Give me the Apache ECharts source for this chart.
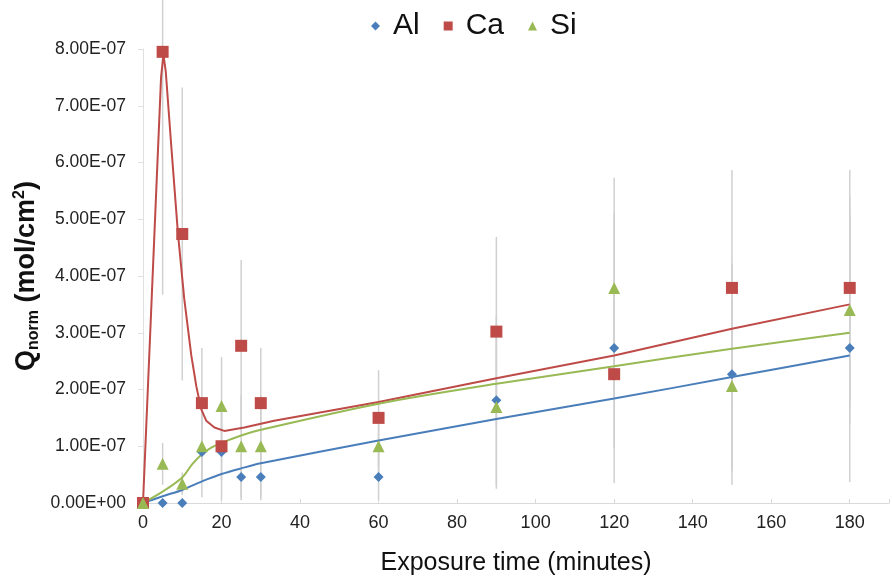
<!DOCTYPE html>
<html>
<head>
<meta charset="utf-8">
<script src="https://cdn.jsdelivr.net/npm/echarts@6/dist/echarts.min.js"></script>
<style>
  html, body { margin: 0; padding: 0; background: #fff; }
  #chart { width: 892px; height: 583px; }
</style>
</head>
<body>
<div id="chart"></div>
<script>
// measured points (mol/cm2) at each exposure time (minutes)
var time = [0, 5, 10, 15, 20, 25, 30, 60, 90, 120, 150, 180];
var al = [0, 0, 0, 0.9e-7, 0.9e-7, 0.46e-7, 0.46e-7, 0.46e-7, 1.81e-7, 2.73e-7, 2.27e-7, 2.73e-7];
var ca = [0, 7.95e-7, 4.74e-7, 1.76e-7, 1.0e-7, 2.77e-7, 1.76e-7, 1.5e-7, 3.02e-7, 2.27e-7, 3.79e-7, 3.79e-7];
var si = [0, 0.69e-7, 0.34e-7, 1.0e-7, 1.71e-7, 1.0e-7, 1.0e-7, 1.0e-7, 1.69e-7, 3.79e-7, 2.06e-7, 3.4e-7];

// error bar half widths
var alErr = [0, 0, 0, 0.8e-7, 0.85e-7, 0.41e-7, 0.41e-7, 0.41e-7, 1.5e-7, 2.38e-7, 1.95e-7, 2.36e-7];
var caErr = [0, 4.28e-7, 2.58e-7, 0.97e-7, 0.6e-7, 1.51e-7, 0.97e-7, 0.84e-7, 1.67e-7, 1.3e-7, 2.08e-7, 2.08e-7];
var siErr = [0, 0.37e-7, 0.2e-7, 0.6e-7, 0.86e-7, 0.9e-7, 0.9e-7, 0.5e-7, 1.44e-7, 1.94e-7, 1.5e-7, 2.0e-7];

// fitted curves
var alFitT = [0, 5, 10, 15, 20, 25, 30, 60, 90, 120, 150, 180];
var alFitV = [0, 0.12e-7, 0.23e-7, 0.38e-7, 0.51e-7, 0.61e-7, 0.7e-7, 1.1e-7, 1.48e-7, 1.84e-7, 2.22e-7, 2.6e-7];
var caFitT = [0, 4.6, 5.2, 5.8, 7.3, 8.9, 10.5, 12.3, 13.6, 14.8, 16.1, 18.2, 20.7, 25.8, 33.4, 60, 90, 120, 150, 180];
var caFitV = [0, 7.5e-7, 7.9e-7, 7.6e-7, 6.2e-7, 4.75e-7, 3.6e-7, 2.6e-7, 2.05e-7, 1.66e-7, 1.45e-7, 1.33e-7, 1.27e-7, 1.33e-7, 1.45e-7, 1.78e-7, 2.2e-7, 2.6e-7, 3.07e-7, 3.5e-7];
var siFitT = [0, 5, 10, 12.5, 15, 17.5, 20, 25, 30, 60, 90, 120, 150, 180];
var siFitV = [0, 0.2e-7, 0.45e-7, 0.68e-7, 0.86e-7, 0.98e-7, 1.06e-7, 1.19e-7, 1.29e-7, 1.75e-7, 2.1e-7, 2.41e-7, 2.72e-7, 3.0e-7];

var xTicks = [0, 20, 40, 60, 80, 100, 120, 140, 160, 180];

var blue = '#4a7ebb', red = '#be4b48', green = '#98b954';

function pairs(xs, ys) {
  return xs.map(function (x, i) { return [x, ys[i]]; });
}
function bars(vals, errs) {
  var out = [];
  time.forEach(function (t, i) {
    if (errs[i] > 0) out.push([t, vals[i] - errs[i], vals[i] + errs[i]]);
  });
  return out;
}
function sci(v) {
  if (v === 0) return '0.00E+00';
  var e = Math.floor(Math.log10(v) + 1e-9);
  var m = v / Math.pow(10, e);
  var ae = Math.abs(e);
  return m.toFixed(2) + 'E' + (e < 0 ? '-' : '+') + (ae < 10 ? '0' : '') + ae;
}
function errSeries(name, data) {
  return {
    name: name,
    type: 'custom',
    data: data,
    z: 1,
    silent: true,
    clip: false,
    renderItem: function (params, api) {
      var lo = api.coord([api.value(0), api.value(1)]);
      var hi = api.coord([api.value(0), api.value(2)]);
      return {
        type: 'line',
        shape: { x1: lo[0], y1: lo[1], x2: hi[0], y2: hi[1] },
        style: { stroke: '#d0d0d0', lineWidth: 1.5 }
      };
    }
  };
}
function fitSeries(name, data, color, smooth) {
  return {
    name: name,
    type: 'line',
    data: data,
    smooth: smooth,
    showSymbol: false,
    z: 2,
    lineStyle: { color: color, width: 2 },
    itemStyle: { color: color }
  };
}
function pointSeries(name, data, symbol, size, color) {
  return {
    name: name,
    type: 'scatter',
    data: data,
    symbol: symbol,
    symbolSize: size,
    z: 3,
    itemStyle: { color: color, opacity: 1 }
  };
}

var chart = echarts.init(document.getElementById('chart'));
chart.setOption({
  animation: false,
  backgroundColor: '#fff',
  textStyle: { fontFamily: 'Liberation Sans, Arial, sans-serif' },
  legend: {
    data: ['Al', 'Ca', 'Si'],
    top: 6,
    left: 366,
    itemGap: 24,
    itemWidth: 9,
    itemHeight: 9,
    textStyle: { fontSize: 30, color: '#111', padding: [0, 0, 0, 8] }
  },
  grid: { left: 143, right: 0, top: 49, bottom: 80 },
  xAxis: {
    type: 'value',
    min: 0,
    max: 190,
    interval: 20,
    name: 'Exposure time (minutes)',
    nameLocation: 'middle',
    nameGap: 48,
    nameTextStyle: { fontSize: 25, color: '#111' },
    axisLine: { lineStyle: { color: '#d9d9d9', width: 1 } },
    axisTick: { show: true, inside: true, length: 4, lineStyle: { color: '#d9d9d9' } },
    splitLine: { show: false },
    axisLabel: {
      fontSize: 18,
      color: '#222',
      margin: 11,
      formatter: function (v) { return xTicks.indexOf(v) >= 0 ? String(v) : ''; }
    }
  },
  yAxis: {
    type: 'value',
    min: 0,
    max: 8e-7,
    interval: 1e-7,
    name: '{q|Q}{sub|norm}{q| (mol/cm}{sup|2}{q|)}',
    nameLocation: 'middle',
    nameRotate: 90,
    nameGap: 101,
    nameMoveOverlap: false,
    nameTextStyle: {
      rich: {
        q: { fontSize: 27, fontWeight: 'bold', color: '#111', lineHeight: 30 },
        sub: { fontSize: 16, fontWeight: 'bold', color: '#111', padding: [15, 0, 0, 0] },
        sup: { fontSize: 16, fontWeight: 'bold', color: '#111', padding: [0, 0, 13, 0] }
      }
    },
    axisLine: { show: true, lineStyle: { color: '#e0e0e0', width: 1 } },
    axisTick: { show: true, length: 5, lineStyle: { color: '#e0e0e0' } },
    splitLine: { show: false },
    axisLabel: { fontSize: 17.5, color: '#222', margin: 17, formatter: sci }
  },
  series: [
    errSeries('AlErr', bars(al, alErr)),
    errSeries('CaErr', bars(ca, caErr)),
    errSeries('SiErr', bars(si, siErr)),
    fitSeries('Al fit', pairs(alFitT, alFitV), blue, 0.3),
    fitSeries('Ca fit', pairs(caFitT, caFitV), red, false),
    fitSeries('Si fit', pairs(siFitT, siFitV), green, 0.3),
    pointSeries('Al', pairs(time, al), 'diamond', 10, blue),
    pointSeries('Ca', pairs(time, ca), 'rect', 12, red),
    pointSeries('Si', pairs(time, si), 'triangle', 12, green)
  ]
});
</script>
</body>
</html>
